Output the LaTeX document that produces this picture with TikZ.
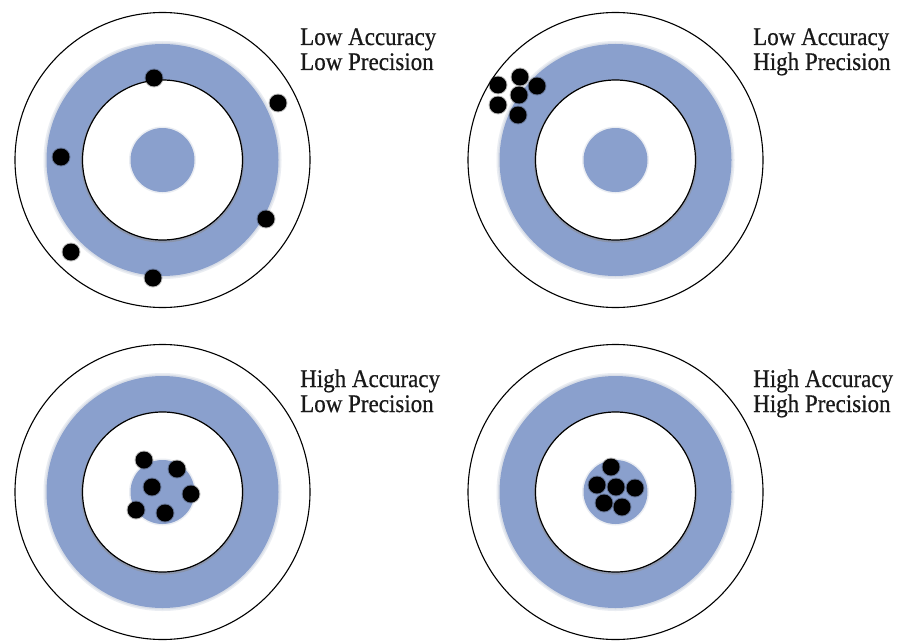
\documentclass[tikz,border=0pt]{standalone}
\usepackage{fontspec}
\setmainfont{Liberation Serif}
\newfontfamily\lblfont{Liberation Serif}[FakeBold=0.6]
\usepackage{graphicx}
\definecolor{ringblue}{RGB}{138,160,205}
\tikzset{
  outerc/.style={circle, draw=black, line width=1.1pt, fill=white, minimum size=295pt, inner sep=0pt},
  ringc/.style={circle, fill=ringblue, minimum size=232pt, inner sep=0pt},
  ringglow/.style={circle, fill=ringblue!85!black, fill opacity=0.15, minimum size=#1, inner sep=0pt},
  innerc/.style={circle, draw=black, line width=1.2pt, fill=white, minimum size=160pt, inner sep=0pt},
  innershadow/.style={circle, draw=black!45, draw opacity=0.5, line width=2.2pt, minimum size=161pt, inner sep=0pt},
  bullc/.style={circle, fill=ringblue, minimum size=64pt, inner sep=0pt},
  shotc/.style={circle, fill=black, minimum size=17pt, inner sep=0pt},
  shotglow/.style={circle, fill=black, fill opacity=0.25, minimum size=19pt, inner sep=0pt},
  lbl/.style={anchor=base west, inner sep=0pt, text=black!90, font=\lblfont\fontsize{23}{28}\selectfont},
}
\newcommand{\mytarget}[3]{%
  \node[outerc] (o#1) at (#2,#3) {};
  \node[ringglow=238pt] at (#2,#3) {};
  \node[ringglow=235pt] at (#2,#3) {};
  \node[ringc] (r#1) at (#2,#3) {};
  \node[innershadow] at (#2,#3+1) {};
  \node[innerc] (i#1) at (#2,#3) {};
  \node[ringglow=67pt] at (#2,#3) {};
  \node[bullc] (b#1) at (#2,#3) {};
}
\newcommand{\myshot}[3]{%
  \node[shotglow] at (#2,#3) {};
  \node[shotc] (#1) at (#2,#3) {};
}
\begin{document}
\begin{tikzpicture}[x=1pt,y=-1pt]
\useasboundingbox[fill=white] (0,0) rectangle (899,642);
% targets
\mytarget{1}{162.5}{160}
\mytarget{2}{615.5}{160}
\mytarget{3}{162.5}{492}
\mytarget{4}{615.5}{492}
% shots target 1
\myshot{s1a}{154}{78}
\myshot{s1b}{278}{103}
\myshot{s1c}{61}{157}
\myshot{s1d}{266}{219}
\myshot{s1e}{71}{252}
\myshot{s1f}{153}{278}
% shots target 2
\myshot{s2a}{520}{77}
\myshot{s2b}{498}{85}
\myshot{s2c}{537}{86}
\myshot{s2d}{519}{95}
\myshot{s2e}{498}{105}
\myshot{s2f}{518}{115}
% shots target 3
\myshot{s3a}{144}{460}
\myshot{s3b}{177}{469}
\myshot{s3c}{152}{487}
\myshot{s3d}{191}{494}
\myshot{s3e}{136}{510}
\myshot{s3f}{165}{513}
% shots target 4
\myshot{s4a}{611}{467}
\myshot{s4b}{597}{485}
\myshot{s4c}{616}{487}
\myshot{s4d}{635}{488}
\myshot{s4e}{604}{503}
\myshot{s4f}{622}{507}
% labels
\node[lbl] (t1a) at (300,45) {\scalebox{1}[1.1]{Low Accuracy}};
\node[lbl] (t1b) at (300,70) {\scalebox{1}[1.1]{Low Precision}};
\node[lbl] (t2a) at (753,45) {\scalebox{1}[1.1]{Low Accuracy}};
\node[lbl] (t2b) at (753,70) {\scalebox{1}[1.1]{High Precision}};
\node[lbl] (t3a) at (300,387) {\scalebox{1}[1.1]{High Accuracy}};
\node[lbl] (t3b) at (300,412) {\scalebox{1}[1.1]{Low Precision}};
\node[lbl] (t4a) at (753,387) {\scalebox{1}[1.1]{High Accuracy}};
\node[lbl] (t4b) at (753,412) {\scalebox{1}[1.1]{High Precision}};
\end{tikzpicture}
\end{document}
